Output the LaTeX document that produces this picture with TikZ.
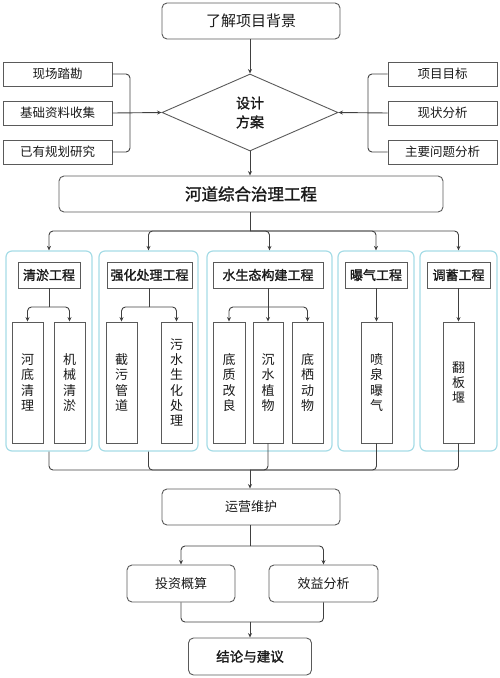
\documentclass[tikz,border=0pt]{standalone}
\usepackage{fontspec}
\setmainfont{Noto Sans CJK SC}[AutoFakeBold=1.5]
\usetikzlibrary{shapes.geometric,arrows.meta}
\definecolor{boxline}{HTML}{5A5A5A}
\definecolor{conn}{HTML}{404040}
\definecolor{grp}{HTML}{A6DCE6}
\definecolor{txt}{HTML}{1A1A1A}
\tikzset{
  rbox/.style={draw=boxline, line width=0.9pt, rounded corners=5pt, fill=white, inner sep=0pt, text=txt, font=\fontsize{13}{15}\selectfont},
  sbox/.style={draw=boxline, line width=0.9pt, fill=white, inner sep=0pt, text=txt, font=\fontsize{12.5}{15}\selectfont},
  hbox/.style={draw=boxline, line width=0.9pt, fill=white, inner sep=0pt, text=txt, minimum height=26pt, font=\fontsize{13}{15}\selectfont\bfseries},
  vbox/.style={draw=boxline, line width=0.9pt, fill=white, inner sep=0pt, text=txt, minimum width=31pt, minimum height=121pt, align=center, font=\fontsize{13}{15.3}\selectfont},
  grpbox/.style={draw=grp, line width=1.2pt, rounded corners=6pt, inner sep=0pt, minimum height=200pt},
  arr/.style={draw=conn, line width=0.9pt, rounded corners=4pt, -{Stealth[length=4.5pt,width=4pt]}},
  ln/.style={draw=conn, line width=0.9pt, rounded corners=4pt},
}
\begin{document}
\begin{tikzpicture}[x=1pt,y=-1pt]
\useasboundingbox (0,0) rectangle (500,678);
% top
\node[rbox, minimum width=178pt, minimum height=36pt, font=\fontsize{15}{17}\selectfont] (bg) at (251,21) {了解项目背景};
\node[draw=boxline, line width=0.9pt, shape=diamond, shape aspect=2.29, minimum width=176pt, minimum height=77pt, inner sep=0pt, align=center, text=txt, font=\fontsize{14}{19}\selectfont\bfseries] (dia) at (250,112.5) {设计\\方案};
% left
\node[sbox, minimum width=109pt, minimum height=24pt] (l1) at (57.5,74) {现场踏勘};
\node[sbox, minimum width=109pt, minimum height=24pt] (l2) at (57.5,113) {基础资料收集};
\node[sbox, minimum width=109pt, minimum height=24pt] (l3) at (57.5,152) {已有规划研究};
% right
\node[sbox, minimum width=109pt, minimum height=24pt] (r1) at (442.5,74) {项目目标};
\node[sbox, minimum width=109pt, minimum height=24pt] (r2) at (442.5,113) {现状分析};
\node[sbox, minimum width=109pt, minimum height=24pt] (r3) at (442.5,152) {主要问题分析};
\coordinate (lj) at (130,113);
\coordinate (rj) at (368,113);
% main
\node[rbox, minimum width=384pt, minimum height=36pt, font=\fontsize{16.5}{18}\selectfont\bfseries] (main) at (251,194) {河道综合治理工程};
% groups
\node[grpbox, minimum width=86pt] (g1) at (49,351) {};
\node[grpbox, minimum width=99pt] (g2) at (148.5,351) {};
\node[grpbox, minimum width=125pt] (g3) at (269.5,351) {};
\node[grpbox, minimum width=76pt] (g4) at (376,351) {};
\node[grpbox, minimum width=77pt] (g5) at (458.5,351) {};
% headers
\node[hbox, minimum width=62pt] (h1) at (49,275) {清淤工程};
\node[hbox, minimum width=85pt] (h2) at (149.5,275) {强化处理工程};
\node[hbox, minimum width=110pt] (h3) at (268,275) {水生态构建工程};
\node[hbox, minimum width=62pt] (h4) at (376,275) {曝气工程};
\node[hbox, minimum width=63pt] (h5) at (458.5,275) {调蓄工程};
% sub boxes
\node[vbox] (s11) at (27.5,382.5) {河\\底\\清\\理};
\node[vbox] (s12) at (69.5,382.5) {机\\械\\清\\淤};
\node[vbox] (s21) at (121.5,382.5) {截\\污\\管\\道};
\node[vbox] (s22) at (176.5,382.5) {污\\水\\生\\化\\处\\理};
\node[vbox, minimum width=32pt] (s31) at (229,382.5) {底\\质\\改\\良};
\node[vbox, minimum width=30pt] (s32) at (268,382.5) {沉\\水\\植\\物};
\node[vbox] (s33) at (307.5,382.5) {底\\栖\\动\\物};
\node[vbox] (s41) at (376.5,382.5) {喷\\泉\\曝\\气};
\node[vbox] (s51) at (458.5,382.5) {翻\\板\\堰};
% lower chain
\node[rbox, minimum width=178pt, minimum height=36pt] (ops) at (251,507) {运营维护};
\node[rbox, minimum width=108pt, minimum height=37pt] (inv) at (181,583.5) {投资概算};
\node[rbox, minimum width=109pt, minimum height=37pt] (ben) at (323.5,583.5) {效益分析};
\node[rbox, minimum width=123pt, minimum height=37pt, font=\fontsize{13.5}{15}\selectfont\bfseries] (conc) at (250,656.5) {结论与建议};
% junction coordinates
\coordinate (b1) at (250,231);
\coordinate (m1) at (250,470);
\coordinate (k1) at (250,546);
\coordinate (k2) at (250,622);
\coordinate (j1) at (49,307);
\coordinate (j2) at (149,307);
\coordinate (j3) at (268,307);
% connectors top
\draw[arr] (bg.south -| dia.north) -- (dia.north);
\draw[ln] (l1.east) -| (lj);
\draw[ln] (l3.east) -| (lj);
\draw[arr] (l2.east) -- (dia.west);
\draw[ln] (r1.west) -| (rj);
\draw[ln] (r3.west) -| (rj);
\draw[arr] (r2.west) -- (dia.east);
\draw[arr] (dia.south) -- (dia.south |- main.north);
% main to groups
\draw[ln] (main.south -| b1) -- (b1);
\draw[arr] (b1) -| (g1.north);
\draw[arr] (b1) -| (g2.north);
\draw[arr] (b1) -| (g3.north);
\draw[arr] (b1) -| (g4.north);
\draw[arr] (b1) -| (g5.north);
% inside groups
\draw[ln] (h1.south) -- (j1);
\draw[arr] (j1) -| (s11.north);
\draw[arr] (j1) -| (s12.north);
\draw[ln] (h2.south -| j2) -- (j2);
\draw[arr] (j2) -| (s21.north);
\draw[arr] (j2) -| (s22.north);
\draw[ln] (h3.south) -- (j3);
\draw[arr] (j3) -| (s31.north);
\draw[arr] (j3) -- (s32.north);
\draw[arr] (j3) -| (s33.north);
\draw[arr] (h4.south -| s41.north) -- (s41.north);
\draw[arr] (h5.south) -- (s51.north);
% groups to ops
\draw[ln] (g1.south) |- (m1);
\draw[ln] (g2.south) |- (m1);
\draw[ln] (s32.south) |- (m1);
\draw[ln] (s41.south) |- (m1);
\draw[ln] (s51.south) |- (m1);
\draw[arr] (m1) -- (m1 |- ops.north);
% ops to analysis
\draw[ln] (ops.south -| k1) -- (k1);
\draw[arr] (k1) -| (inv.north);
\draw[arr] (k1) -| (ben.north);
\draw[ln] (inv.south) |- (k2);
\draw[ln] (ben.south) |- (k2);
\draw[arr] (k2) -- (conc.north);
\end{tikzpicture}
\end{document}
